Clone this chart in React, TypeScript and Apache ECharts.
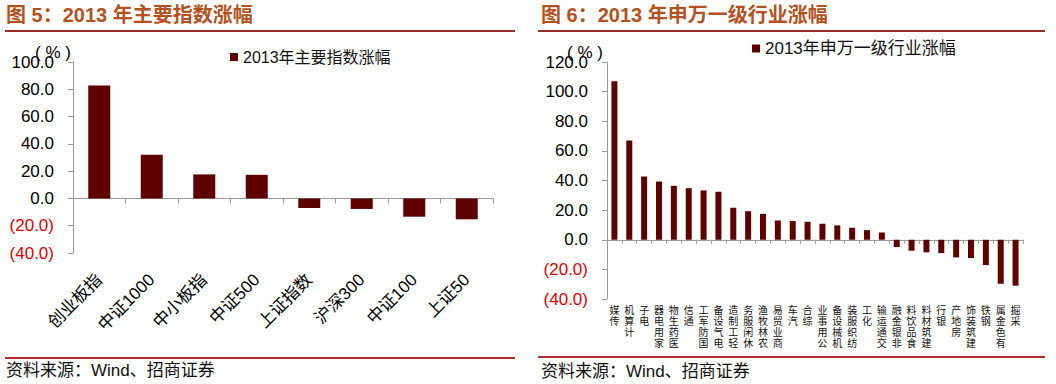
import React, { useEffect, useRef } from "react";
import * as echarts from "echarts";

const indexCategories = ["创业板指", "中证1000", "中小板指", "中证500", "上证指数", "沪深300", "中证100", "上证50"];
const indexValues = [82.7, 32.0, 17.6, 17.3, -7.0, -7.7, -13.4, -15.3];

const industryCategories = [
  "传媒", "计算机", "电子", "家用电器", "医药生物", "通信", "国防军工", "电气设备", "轻工制造", "休闲服务",
  "农林牧渔", "商业贸易", "汽车", "综合", "公用事业", "机械设备", "纺织服装", "化工", "交通运输", "非银金融",
  "食品饮料", "建筑材料", "银行", "房地产", "建筑装饰", "钢铁", "有色金属", "采掘",
];
const industryValues = [
  107.0, 67.0, 42.7, 39.3, 36.4, 34.8, 33.3, 32.4, 21.6, 19.3,
  17.5, 13.0, 12.6, 12.1, 10.8, 9.7, 8.1, 6.5, 4.9, -4.9,
  -7.4, -8.5, -9.0, -11.9, -12.4, -17.1, -29.7, -31.0,
];

const leftTitle = "图 5：2013 年主要指数涨幅";
const rightTitle = "图 6：2013 年申万一级行业涨幅";
const leftSeriesName = "2013年主要指数涨幅";
const rightSeriesName = "2013年申万一级行业涨幅";
const sourceText = "资料来源：Wind、招商证券";
const unitText = "( % )";

const FONT = "'Liberation Sans', 'Noto Sans CJK SC', sans-serif";
const BAR = "#5f0000";
const AXIS = "#9a9a9a";
const TITLE_COLOR = "#b2521f";

const yFormatter = (v: number) => (v < 0 ? `(${(-v).toFixed(1)})` : v.toFixed(1));
const yColor = (v: any) => (Number(v) < 0 ? "#e00000" : "#000");

function yAxisCfg(gridIndex: number, min: number, max: number) {
  return {
    type: "value",
    gridIndex,
    min,
    max,
    interval: 20,
    splitLine: { show: false },
    axisLine: { show: true, lineStyle: { color: AXIS, width: 1 } },
    axisTick: { show: true, length: 5, lineStyle: { color: AXIS } },
    axisLabel: { formatter: yFormatter, color: yColor, fontSize: 17, fontFamily: FONT, margin: 19 },
  };
}

export default function App() {
  const ref = useRef<HTMLDivElement>(null);
  useEffect(() => {
    const chart = echarts.init(ref.current!, null, { renderer: "svg" });
    const option: any = {
      animation: false,
      backgroundColor: "#fff",
      grid: [
        { left: 73, top: 62, width: 420, height: 191, containLabel: false, outerBoundsMode: "none" },
        { left: 607, top: 62, width: 416, height: 237, containLabel: false, outerBoundsMode: "none" },
      ],
      legend: [
        {
          data: [leftSeriesName], left: 230, top: 49, padding: 0, icon: "rect", itemWidth: 8, itemHeight: 8,
          textStyle: { fontSize: 16, color: "#111", fontFamily: FONT },
        },
        {
          data: [rightSeriesName], left: 752, top: 40, padding: 0, icon: "rect", itemWidth: 8, itemHeight: 8,
          textStyle: { fontSize: 17, color: "#111", fontFamily: FONT },
        },
      ],
      xAxis: [
        {
          type: "category", gridIndex: 0, data: indexCategories,
          axisLine: { onZero: true, lineStyle: { color: AXIS } },
          axisTick: { show: true, length: 5, lineStyle: { color: AXIS } },
          axisLabel: { interval: 0, rotate: 45, margin: 24, fontSize: 17, color: "#000", fontFamily: FONT },
        },
        {
          type: "category", gridIndex: 1, data: industryCategories,
          axisLine: { onZero: true, lineStyle: { color: AXIS } },
          axisTick: { show: true, length: 4, lineStyle: { color: AXIS } },
          axisLabel: {
            interval: 0, margin: 6, fontSize: 10, lineHeight: 11, color: "#111", fontFamily: FONT,
            formatter: (v: string) => v.split("").reverse().join("\n"),
          },
        },
      ],
      yAxis: [yAxisCfg(0, -40, 100), yAxisCfg(1, -40, 120)],
      series: [
        { type: "bar", name: leftSeriesName, xAxisIndex: 0, yAxisIndex: 0, data: indexValues, barWidth: 22, itemStyle: { color: BAR } },
        { type: "bar", name: rightSeriesName, xAxisIndex: 1, yAxisIndex: 1, data: industryValues, barWidth: 6, itemStyle: { color: BAR } },
      ],
      graphic: [
        { type: "text", x: 6, y: 15, style: { text: leftTitle, fill: TITLE_COLOR, font: `bold 20px ${FONT}`, align: "left", verticalAlign: "middle" } },
        { type: "text", x: 541, y: 15, style: { text: rightTitle, fill: TITLE_COLOR, font: `bold 20px ${FONT}`, align: "left", verticalAlign: "middle" } },
        { type: "line", shape: { x1: 5, y1: 31, x2: 515, y2: 31 }, style: { stroke: "#9e2a2a", lineWidth: 2 } },
        { type: "line", shape: { x1: 538, y1: 31, x2: 1045, y2: 31 }, style: { stroke: "#9e2a2a", lineWidth: 2 } },
        { type: "line", shape: { x1: 5, y1: 358, x2: 515, y2: 358 }, style: { stroke: "#b22a2a", lineWidth: 2 } },
        { type: "line", shape: { x1: 538, y1: 357, x2: 1045, y2: 357 }, style: { stroke: "#b22a2a", lineWidth: 2 } },
        { type: "text", x: 6, y: 370, style: { text: sourceText, fill: "#111", font: `17px ${FONT}`, align: "left", verticalAlign: "middle" } },
        { type: "text", x: 541, y: 371, style: { text: sourceText, fill: "#111", font: `17px ${FONT}`, align: "left", verticalAlign: "middle" } },
        { type: "text", x: 35, y: 52, style: { text: unitText, fill: "#000", font: `17px ${FONT}`, align: "left", verticalAlign: "middle" } },
        { type: "text", x: 567, y: 52, style: { text: unitText, fill: "#000", font: `17px ${FONT}`, align: "left", verticalAlign: "middle" } },
      ],
    };
    chart.setOption(option);
    return () => chart.dispose();
  }, []);
  return (
    <div
      ref={ref}
      style={{ position: "absolute", left: 0, top: 0, width: 1056, height: 384, background: "#fff" }}
    />
  );
}
